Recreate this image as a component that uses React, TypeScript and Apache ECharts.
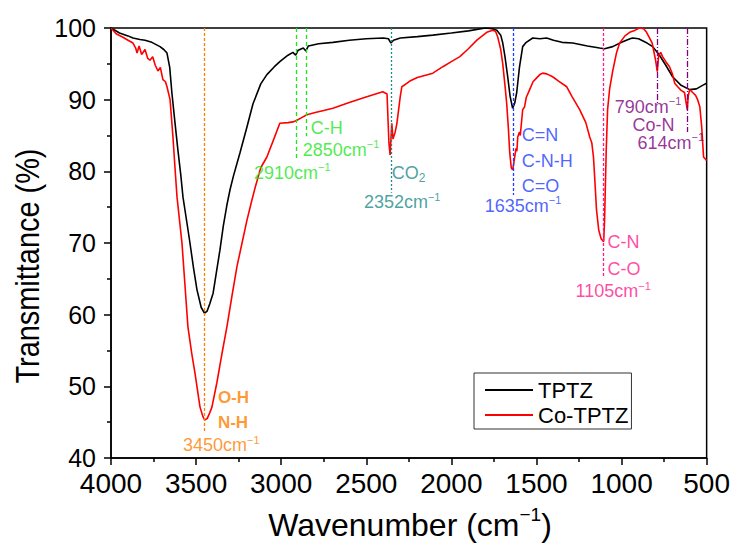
import React, { useEffect, useRef } from "react";
import * as echarts from "echarts";

// FTIR spectra: [wavenumber (cm-1), transmittance (%)]
const tptzSpectrum: [number, number][] = [
  [4000, 100], [3950, 99.3], [3900, 98.9], [3871, 98.6], [3830, 98.4], [3800, 98.3],
  [3760, 98.0], [3712, 97.4], [3690, 97.0], [3671, 96.5], [3655, 94.5], [3642, 90.9],
  [3625, 87], [3607, 83], [3590, 79.5], [3577, 76.4], [3555, 73], [3536, 70],
  [3515, 66.5], [3495, 63.5], [3470, 61], [3450, 60.2], [3435, 60.5], [3420, 61.5],
  [3400, 63], [3380, 66], [3360, 69], [3340, 72.4], [3319, 75.3], [3300, 77.5],
  [3280, 79.4], [3242, 82.6], [3200, 86.3], [3166, 89.4], [3120, 92.2], [3084, 93.5],
  [3040, 94.6], [3008, 95.3], [2960, 96.2], [2931, 96.6], [2915, 96.2], [2900, 96.9],
  [2870, 97.2], [2855, 96.8], [2840, 97.5], [2780, 97.8], [2696, 98], [2600, 98.3],
  [2500, 98.5], [2400, 98.6], [2370, 98.5], [2355, 97.9], [2340, 98.3], [2300, 98.6],
  [2200, 98.8], [2109, 99], [2000, 99.3], [1900, 99.6], [1800, 100], [1760, 99.9],
  [1733, 99.7], [1710, 99], [1698, 97.9], [1685, 96], [1669, 93.2], [1655, 90.5],
  [1640, 88.8], [1628, 89.5], [1616, 91], [1600, 94.5], [1581, 97.4], [1560, 98],
  [1522, 98.6], [1480, 98.5], [1440, 98.6], [1400, 98.3], [1350, 98], [1287, 97.9],
  [1200, 97.5], [1129, 97.2], [1100, 97.1], [1052, 97.4], [1000, 98], [950, 98.5],
  [935, 98.6], [900, 98.5], [850, 97.9], [817, 97.4], [780, 96.3], [740, 94.8],
  [700, 93.2], [650, 92], [600, 91.4], [560, 91.5], [524, 92], [500, 92.3],
];

const coTptzSpectrum: [number, number][] = [
  [4000, 100], [3970, 99.2], [3930, 98.7], [3900, 98.3], [3871, 97.9], [3855, 97.2],
  [3847, 96.5], [3835, 97.5], [3820, 96.3], [3800, 97], [3785, 95.8], [3771, 95.5],
  [3755, 96], [3740, 94.8], [3724, 94], [3710, 94.5], [3695, 92.8], [3680, 92.5],
  [3671, 91.8], [3653, 90], [3636, 84.8], [3624, 80.5], [3612, 76.4], [3583, 70],
  [3565, 64], [3548, 58.3], [3525, 54.5], [3507, 51.9], [3477, 47.1], [3460, 45.8],
  [3450, 45.3], [3435, 45.5], [3420, 46.3], [3407, 47.1], [3378, 50.5], [3350, 54.3],
  [3319, 58.3], [3290, 62.5], [3260, 66.7], [3230, 70], [3201, 73.2], [3172, 76],
  [3150, 78], [3120, 80.5], [3084, 82], [3040, 84.7], [3008, 86.7], [2960, 86.8],
  [2931, 86.9], [2910, 87.1], [2880, 87.5], [2849, 87.9], [2800, 88.2], [2750, 88.5],
  [2696, 88.8], [2600, 89.6], [2497, 90.4], [2403, 91.1], [2378, 90.8], [2367, 84],
  [2360, 82.3], [2350, 86.7], [2343, 84.5], [2330, 85.5], [2320, 86.7], [2300, 90.5],
  [2291, 91.8], [2260, 92.3], [2244, 92.6], [2200, 93.1], [2109, 93.7], [2050, 94.6],
  [2000, 95.3], [1950, 96], [1900, 97.1], [1850, 98.3], [1792, 99.4], [1757, 99.7],
  [1740, 99.5], [1727, 98.7], [1710, 97], [1698, 95], [1685, 92], [1675, 89.5],
  [1665, 86], [1657, 82.6], [1648, 80.5], [1640, 80.2], [1634, 81], [1628, 82],
  [1620, 83.2], [1615, 82.8], [1610, 84.8], [1600, 85.5], [1595, 85], [1581, 88.6],
  [1570, 89], [1560, 90.3], [1540, 91.4], [1520, 92.5], [1500, 93], [1480, 93.5],
  [1463, 93.7], [1440, 93.6], [1405, 93.2], [1370, 92.6], [1322, 91.8], [1290, 90.4],
  [1246, 88.6], [1210, 86.8], [1187, 84.8], [1175, 84], [1165, 82], [1158, 79.2],
  [1147, 74.6], [1134, 71.8], [1120, 70.6], [1110, 70.3], [1105, 70.2], [1100, 73],
  [1095, 78], [1090, 83], [1082, 88.6], [1070, 91.5], [1052, 94], [1030, 96.5],
  [1011, 97.9], [980, 98.9], [952, 99.4], [920, 99.7], [894, 100], [870, 99.9],
  [853, 99.4], [835, 98.6], [820, 97.9], [800, 95.5], [790, 93.9], [782, 96.2],
  [770, 96.6], [759, 96], [740, 95.3], [718, 94.6], [700, 93.5], [688, 92.3],
  [670, 91.8], [650, 91.3], [630, 91], [620, 89.5], [614, 88.6], [608, 90.5],
  [600, 91.4], [582, 91], [565, 90.6], [553, 90], [540, 89], [529, 86.2],
  [518, 82], [500, 81.5],
];

const seriesNames = ["TPTZ", "Co-TPTZ"];

const ORANGE = "#FF8000";
const GREEN = "#1EE61E";
const TEAL = "#1A8A8A";
const BLUE = "#1E3CFF";
const PINK = "#FF1A8C";
const PURPLE = "#800080";

// Band markers: wavenumber and the transmittance where the guide line stops
const bandWavenumbers = [3450, 2910, 2850, 2352, 1635, 1105, 790, 614];
const bandLineEnds = [43.5, 81.6, 84.9, 77, 76.7, 65.4, 89.5, 85.5];
const bandColors = [ORANGE, GREEN, GREEN, TEAL, BLUE, PINK, PURPLE, PURPLE];
const bandDash = [[3, 2], [4, 3], [4, 3], [2, 2], [3, 2], [3, 2], [6, 2, 1, 2], [6, 2, 1, 2]];

// Band assignments: text, anchor (wavenumber, transmittance) of its left edge
const bandLabels: { text: string; at: [number, number]; color: string; bold?: boolean }[] = [
  { text: "O-H", at: [3372, 48.5], color: ORANGE, bold: true },
  { text: "N-H", at: [3372, 44.9], color: ORANGE, bold: true },
  { text: "3450cm{sup|−1}", at: [3577, 41.8], color: ORANGE },
  { text: "C-H", at: [2826, 86.0], color: GREEN },
  { text: "2850cm{sup|−1}", at: [2873, 83.0], color: GREEN },
  { text: "2910cm{sup|−1}", at: [3160, 79.8], color: GREEN },
  { text: "CO{sub|2}", at: [2350, 79.8], color: TEAL },
  { text: "2352cm{sup|−1}", at: [2514, 75.7], color: TEAL },
  { text: "C=N", at: [1587, 85.1], color: BLUE },
  { text: "C-N-H", at: [1587, 81.4], color: BLUE },
  { text: "C=O", at: [1587, 78.0], color: BLUE },
  { text: "1635cm{sup|−1}", at: [1804, 75.2], color: BLUE },
  { text: "C-N", at: [1082, 70.1], color: PINK },
  { text: "C-O", at: [1082, 66.4], color: PINK },
  { text: "1105cm{sup|−1}", at: [1270, 63.3], color: PINK },
  { text: "790cm{sup|−1}", at: [1040, 89.0], color: PURPLE },
  { text: "Co-N", at: [935, 86.5], color: PURPLE },
  { text: "614cm{sup|−1}", at: [906, 84.0], color: PURPLE },
];

const SANS = '"Liberation Sans", Arial, sans-serif';

export default function App() {
  const ref = useRef<HTMLDivElement>(null);

  useEffect(() => {
    if (!ref.current) return;
    const chart = echarts.init(ref.current, null, { renderer: "svg" });

    const labelData = bandLabels.map((l) => {
      const hasScript = l.text.indexOf("{") >= 0;
      return {
        value: l.at,
        label: {
          show: true,
          position: "right",
          distance: 0,
          formatter: l.text,
          color: l.color,
          fontFamily: SANS,
          fontSize: l.bold ? 17 : 18,
          fontWeight: l.bold ? "bold" : "normal",
          lineHeight: hasScript ? 22 : 18,
          rich: {
            sup: { fontSize: 11, color: l.color, fontFamily: SANS, verticalAlign: "top", lineHeight: 10 },
            sub: { fontSize: 12, color: l.color, fontFamily: SANS, verticalAlign: "bottom", lineHeight: 14 },
          },
        },
      };
    });

    const markLines = bandWavenumbers.map((wn, i) => [
      { coord: [wn, 100], lineStyle: { color: bandColors[i], type: bandDash[i], width: 1.3, opacity: 1 } },
      { coord: [wn, bandLineEnds[i]], lineStyle: { color: bandColors[i], type: bandDash[i], width: 1.3 } },
    ]);

    const tickStyle = { color: "#000", width: 1.5 };

    chart.setOption({
      animation: false,
      backgroundColor: "#ffffff",
      grid: {
        left: 111,
        right: 26,
        top: 28,
        bottom: 87,
        show: true,
        borderColor: "#000",
        borderWidth: 1.5,
        backgroundColor: "transparent",
      },
      xAxis: {
        type: "value",
        min: 500,
        max: 4000,
        interval: 500,
        inverse: true,
        axisLine: { show: true, lineStyle: tickStyle },
        axisTick: { show: true, inside: false, length: 7, lineStyle: tickStyle },
        minorTick: { show: true, splitNumber: 2, length: 4, lineStyle: tickStyle },
        splitLine: { show: false },
        axisLabel: {
          color: "#000",
          fontFamily: SANS,
          fontSize: 28,
          margin: 11,
          formatter: (v: number) => String(v),
        },
      },
      yAxis: {
        type: "value",
        min: 40,
        max: 100,
        interval: 10,
        axisLine: { show: true, lineStyle: tickStyle },
        axisTick: { show: true, inside: false, length: 7, lineStyle: tickStyle },
        minorTick: { show: true, splitNumber: 2, length: 4, lineStyle: tickStyle },
        splitLine: { show: false },
        axisLabel: { color: "#000", fontFamily: SANS, fontSize: 25, margin: 15 },
      },
      legend: {
        orient: "vertical",
        left: 474,
        top: 373,
        padding: [6, 3, 3, 11],
        itemGap: 3,
        itemWidth: 48,
        itemHeight: 2,
        icon: "rect",
        borderColor: "#333",
        borderWidth: 1,
        textStyle: { color: "#000", fontFamily: SANS, fontSize: 22 },
        data: seriesNames,
      },
      series: [
        {
          name: seriesNames[0],
          type: "line",
          data: tptzSpectrum,
          symbol: "none",
          color: "#000",
          lineStyle: { color: "#000", width: 1.6 },
          z: 3,
        },
        {
          name: seriesNames[1],
          type: "line",
          data: coTptzSpectrum,
          symbol: "none",
          color: "#FF0000",
          lineStyle: { color: "#FF0000", width: 1.6 },
          z: 4,
        },
        {
          name: "bands",
          type: "scatter",
          symbolSize: 0,
          silent: true,
          data: labelData,
          z: 5,
          markLine: {
            silent: true,
            symbol: ["none", "none"],
            label: { show: false },
            emphasis: { disabled: true },
            data: markLines,
          },
        },
      ],
      graphic: [
        {
          type: "text",
          x: 410,
          y: 525,
          style: {
            text: "Wavenumber (cm{sup|−1})",
            fill: "#000",
            fontFamily: SANS,
            fontSize: 32,
            lineHeight: 40,
            align: "center",
            verticalAlign: "middle",
            rich: {
              sup: { fontSize: 19, fontFamily: SANS, fill: "#000", verticalAlign: "top", lineHeight: 20 },
            },
          },
        },
        {
          type: "text",
          x: 27,
          y: 266,
          rotation: Math.PI / 2,
          scaleX: 0.85,
          style: {
            text: "Transmittance (%)",
            fill: "#000",
            fontFamily: SANS,
            fontSize: 34,
            align: "center",
            verticalAlign: "middle",
          },
        },
      ],
    });

    return () => chart.dispose();
  }, []);

  return (
    <div
      ref={ref}
      style={{ position: "absolute", left: 0, top: 0, width: 733, height: 545 }}
    />
  );
}
